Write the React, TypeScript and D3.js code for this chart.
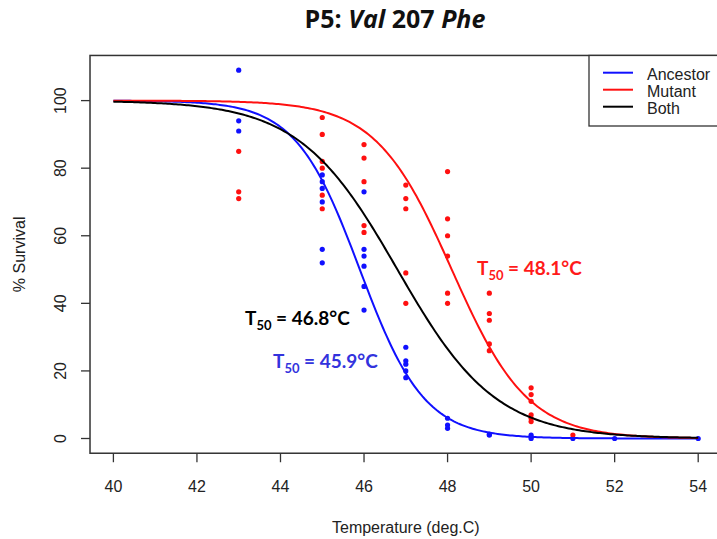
import React from "react";
import * as d3 from "d3";

const W = 717;
const H = 539;

// Observed data (temperature, % survival)
const ancestorTemps = [43, 43, 43, 45, 45, 45, 45, 45, 45, 46, 46, 46, 46, 46, 46, 47, 47, 47, 47, 47, 48, 48, 48, 49, 49, 50, 50, 50, 51, 52, 54];
const ancestorValues = [109, 94, 91, 78, 76, 74, 70, 56, 52, 73, 56, 54, 51, 45, 38, 27, 23, 22, 20, 18, 6, 4, 3, 1.2, 1, 1, 0.5, 0, 0, 0, 0];
const mutantTemps = [43, 43, 43, 45, 45, 45, 45, 45, 45, 46, 46, 46, 46, 46, 47, 47, 47, 47, 47, 48, 48, 48, 48, 48, 48, 49, 49, 49, 49, 49, 50, 50, 50, 50, 50, 50, 51];
const mutantValues = [85, 73, 71, 95, 90, 82, 80, 72, 68, 87, 83, 76, 63, 61, 75, 71, 68, 49, 40, 79, 65, 60, 54, 43, 40, 43, 37, 35, 28, 26, 15, 13, 11, 7, 6, 5, 1];

// Fitted curves
const seriesNames = ["Ancestor", "Mutant", "Both"];
const seriesColors = ["#1010ff", "#ff1010", "#000000"];
const t50Values = [45.9, 48.1, 46.8];
const slopes = [1.3, 1.1, 0.85];
const curveTemps = d3.range(40, 54.001, 0.05);

const xTicks = [40, 42, 44, 46, 48, 50, 52, 54];
const yTicks = [0, 20, 40, 60, 80, 100];

const x = d3.scaleLinear().domain([40, 54]).range([113.4, 698.2]);
const y = d3.scaleLinear().domain([0, 100]).range([438.5, 100.6]);

const x0 = x(39.44);
const x1 = x(54.56);
const y0 = y(-4.36);
const y1 = y(113.36);

const axisColor = "#333";
const textColor = "#222";
const axisFont = "'Liberation Sans', Arial, sans-serif";
const labelFont = "Lato, 'Open Sans', sans-serif";
const titleFont = "'Open Sans', Lato, sans-serif";

function curve(i: number) {
  const line = d3
    .line<number>()
    .x((t) => x(t))
    .y((t) => y(100 / (1 + Math.exp(slopes[i] * (t - t50Values[i])))));
  return line(curveTemps) || "";
}

function T50Label({ xPos, yPos, color, value }: { xPos: number; yPos: number; color: string; value: number }) {
  return (
    <text x={xPos} y={yPos} fill={color} fontFamily={labelFont} fontWeight="bold" fontSize={19}>
      T
      <tspan fontSize={13} dy={5}>50</tspan>
      <tspan dy={-5}>{` = ${value.toFixed(1)}°C`}</tspan>
    </text>
  );
}

export default function App() {
  return (
    <svg
      width={W}
      height={H}
      style={{ position: "absolute", left: 0, top: 0, background: "#fff" }}
    >
      <rect x={0} y={0} width={W} height={H} fill="#fff" />
      {/* Title */}
      <text x={395} y={28} textAnchor="middle" fontFamily={titleFont} fontWeight="bold" fontSize={25} fill="#111">
        P5: <tspan fontStyle="italic">Val</tspan> 207 <tspan fontStyle="italic">Phe</tspan>
      </text>

      {/* Plot box */}
      <rect x={x0} y={y1} width={x1 - x0} height={y0 - y1} fill="none" stroke={axisColor} strokeWidth={1.5} />

      {/* X axis */}
      {xTicks.map((t) => (
        <g key={"xt" + t}>
          <line x1={x(t)} x2={x(t)} y1={y0} y2={y0 + 9} stroke={axisColor} strokeWidth={1.3} />
          <text x={x(t)} y={492} textAnchor="middle" fontFamily={axisFont} fontSize={16} fill={textColor}>
            {t}
          </text>
        </g>
      ))}
      <text x={(x0 + x1) / 2} y={533} textAnchor="middle" fontFamily={axisFont} fontSize={16} fill={textColor}>
        Temperature (deg.C)
      </text>

      {/* Y axis */}
      {yTicks.map((t) => (
        <g key={"yt" + t}>
          <line x1={x0 - 9} x2={x0} y1={y(t)} y2={y(t)} stroke={axisColor} strokeWidth={1.3} />
          <text
            transform={`translate(66,${y(t)}) rotate(-90)`}
            textAnchor="middle"
            fontFamily={axisFont}
            fontSize={16}
            fill={textColor}
          >
            {t}
          </text>
        </g>
      ))}
      <text
        transform={`translate(25,${(y0 + y1) / 2}) rotate(-90)`}
        textAnchor="middle"
        fontFamily={axisFont}
        fontSize={16}
        fill={textColor}
      >
        % Survival
      </text>

      {/* Points */}
      {ancestorTemps.map((t, i) => (
        <circle key={"a" + i} cx={x(t)} cy={y(ancestorValues[i])} r={2.6} fill={seriesColors[0]} />
      ))}
      {mutantTemps.map((t, i) => (
        <circle key={"m" + i} cx={x(t)} cy={y(mutantValues[i])} r={2.6} fill={seriesColors[1]} />
      ))}

      {/* Curves */}
      {seriesNames.map((n, i) => (
        <path key={"c" + n} d={curve(i)} fill="none" stroke={seriesColors[i]} strokeWidth={2} />
      ))}

      {/* Legend */}
      <rect x={589} y={y1} width={140} height={126 - y1} fill="#fff" stroke={axisColor} strokeWidth={1.3} />
      {seriesNames.map((n, i) => (
        <g key={"l" + n}>
          <line x1={603} x2={633} y1={72.7 + i * 17} y2={72.7 + i * 17} stroke={seriesColors[i]} strokeWidth={2} />
          <text x={647} y={80 + i * 17} fontFamily={axisFont} fontSize={16} fill={textColor}>
            {n}
          </text>
        </g>
      ))}

      {/* T50 annotations */}
      <T50Label xPos={477} yPos={275} color="#ff1a1a" value={t50Values[1]} />
      <T50Label xPos={245} yPos={325} color="#000" value={t50Values[2]} />
      <T50Label xPos={273} yPos={368} color="#3333dd" value={t50Values[0]} />
    </svg>
  );
}
